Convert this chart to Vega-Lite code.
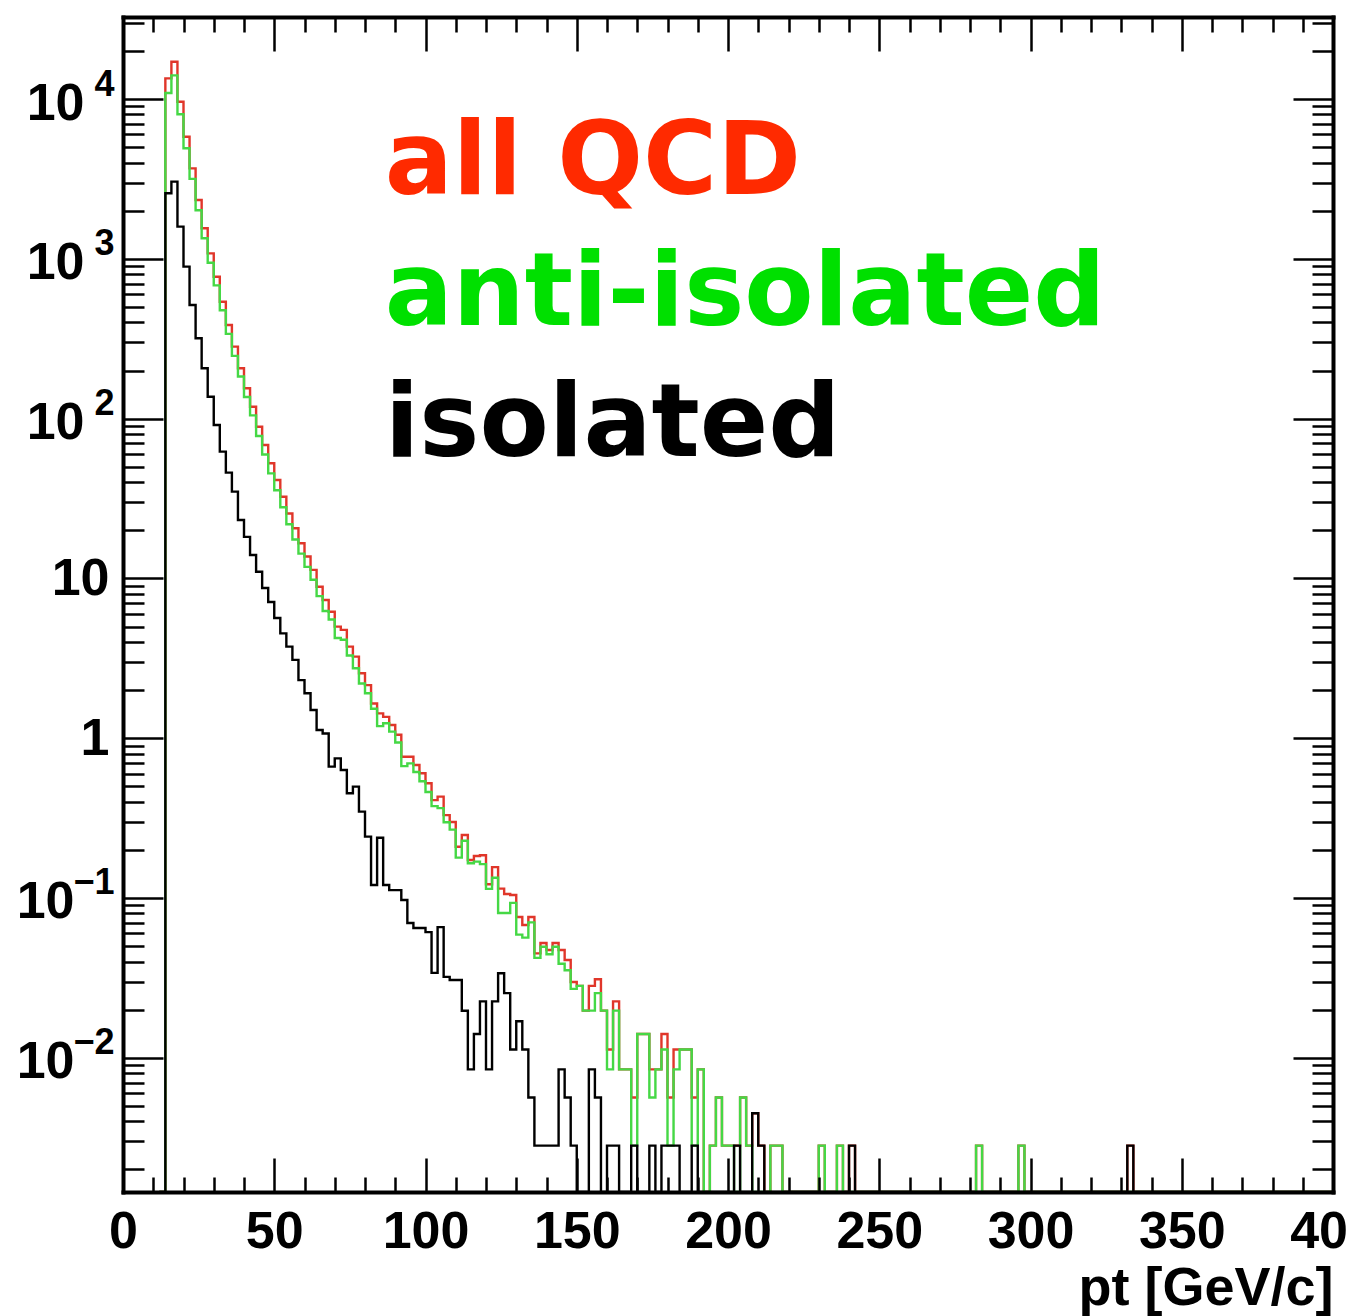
{
  "$schema": "https://vega.github.io/schema/vega-lite/v6.json",
  "width": 1210,
  "height": 1175,
  "autosize": "none",
  "padding": {"left": 123, "top": 17, "right": 16, "bottom": 124},
  "background": "white",
  "config": {"view": {"stroke": null}, "axis": {"grid": false}},
  "data": {"values": [
    {"pt":12,"all":0,"anti":0,"iso":0},
    {"pt":14,"all":13470,"anti":10900,"iso":2570},
    {"pt":16,"all":17100,"anti":14060,"iso":3040},
    {"pt":18,"all":9620,"anti":8030,"iso":1589},
    {"pt":20,"all":5810,"anti":4917,"iso":893},
    {"pt":22,"all":3680,"anti":3166,"iso":514},
    {"pt":24,"all":2333,"anti":2015,"iso":318},
    {"pt":26,"all":1552,"anti":1345,"iso":206.6},
    {"pt":28,"all":1082,"anti":945,"iso":137},
    {"pt":30,"all":773,"anti":682,"iso":91.2},
    {"pt":32,"all":539,"anti":477,"iso":62.1},
    {"pt":34,"all":385,"anti":339,"iso":45.9},
    {"pt":36,"all":282,"anti":247,"iso":34.9},
    {"pt":38,"all":206.5,"anti":183.3,"iso":23.2},
    {"pt":40,"all":154.8,"anti":136.6,"iso":18.2},
    {"pt":42,"all":118.7,"anti":104.7,"iso":14.0},
    {"pt":44,"all":88.9,"anti":77.9,"iso":11.0},
    {"pt":46,"all":68.3,"anti":59.6,"iso":8.71},
    {"pt":48,"all":52.5,"anti":45.4,"iso":7.12},
    {"pt":50,"all":41.3,"anti":35.6,"iso":5.65},
    {"pt":52,"all":32.4,"anti":27.9,"iso":4.53},
    {"pt":54,"all":25.5,"anti":21.8,"iso":3.74},
    {"pt":56,"all":20.6,"anti":17.5,"iso":3.09},
    {"pt":58,"all":16.6,"anti":14.3,"iso":2.31},
    {"pt":60,"all":13.7,"anti":11.8,"iso":1.91},
    {"pt":62,"all":11.3,"anti":9.8,"iso":1.5},
    {"pt":64,"all":8.87,"anti":7.75,"iso":1.125},
    {"pt":66,"all":7.32,"anti":6.25,"iso":1.07},
    {"pt":68,"all":6.19,"anti":5.53,"iso":0.664},
    {"pt":70,"all":4.99,"anti":4.24,"iso":0.748},
    {"pt":72,"all":4.76,"anti":4.13,"iso":0.632},
    {"pt":74,"all":3.74,"anti":3.29,"iso":0.452},
    {"pt":76,"all":3.24,"anti":2.74,"iso":0.498},
    {"pt":78,"all":2.55,"anti":2.2,"iso":0.347},
    {"pt":80,"all":2.15,"anti":1.91,"iso":0.242},
    {"pt":82,"all":1.65,"anti":1.53,"iso":0.1205},
    {"pt":84,"all":1.43,"anti":1.19,"iso":0.238},
    {"pt":86,"all":1.36,"anti":1.24,"iso":0.1205},
    {"pt":88,"all":1.21,"anti":1.1,"iso":0.112},
    {"pt":90,"all":1.05,"anti":0.94,"iso":0.112},
    {"pt":92,"all":0.766,"anti":0.669,"iso":0.0971},
    {"pt":94,"all":0.766,"anti":0.696,"iso":0.0698},
    {"pt":96,"all":0.679,"anti":0.614,"iso":0.0649},
    {"pt":98,"all":0.603,"anti":0.538,"iso":0.0649},
    {"pt":100,"all":0.522,"anti":0.461,"iso":0.0612},
    {"pt":102,"all":0.41,"anti":0.376,"iso":0.034},
    {"pt":104,"all":0.431,"anti":0.365,"iso":0.0657},
    {"pt":106,"all":0.33,"anti":0.298,"iso":0.0321},
    {"pt":108,"all":0.299,"anti":0.268,"iso":0.0307},
    {"pt":110,"all":0.2095,"anti":0.179,"iso":0.0307},
    {"pt":112,"all":0.248,"anti":0.228,"iso":0.0197},
    {"pt":114,"all":0.173,"anti":0.165,"iso":0.00846},
    {"pt":116,"all":0.183,"anti":0.169,"iso":0.0141},
    {"pt":118,"all":0.185,"anti":0.163,"iso":0.02256},
    {"pt":120,"all":0.122,"anti":0.114,"iso":0.00846},
    {"pt":122,"all":0.156,"anti":0.134,"iso":0.02256},
    {"pt":124,"all":0.1144,"anti":0.0806,"iso":0.03384},
    {"pt":126,"all":0.106,"anti":0.0806,"iso":0.02538},
    {"pt":128,"all":0.1045,"anti":0.0932,"iso":0.01128},
    {"pt":130,"all":0.076,"anti":0.059,"iso":0.01692},
    {"pt":132,"all":0.0678,"anti":0.0565,"iso":0.01128},
    {"pt":134,"all":0.076,"anti":0.0704,"iso":0.00564},
    {"pt":136,"all":0.045,"anti":0.0422,"iso":0.00282},
    {"pt":138,"all":0.0523,"anti":0.0495,"iso":0.00282},
    {"pt":140,"all":0.0473,"anti":0.0445,"iso":0.00282},
    {"pt":142,"all":0.0523,"anti":0.0495,"iso":0.00282},
    {"pt":144,"all":0.0473,"anti":0.0388,"iso":0.00846},
    {"pt":146,"all":0.0409,"anti":0.0353,"iso":0.00564},
    {"pt":148,"all":0.0298,"anti":0.027,"iso":0.00282},
    {"pt":150,"all":0.0282,"anti":0.0282,"iso":0},
    {"pt":152,"all":0.01974,"anti":0.01974,"iso":0},
    {"pt":154,"all":0.0282,"anti":0.01974,"iso":0.00846},
    {"pt":156,"all":0.03102,"anti":0.02538,"iso":0.00564},
    {"pt":158,"all":0.01974,"anti":0.01974,"iso":0},
    {"pt":160,"all":0.01128,"anti":0.00846,"iso":0.00282},
    {"pt":162,"all":0.02256,"anti":0.01974,"iso":0.00282},
    {"pt":164,"all":0.00846,"anti":0.00846,"iso":0},
    {"pt":166,"all":0.00846,"anti":0.00846,"iso":0},
    {"pt":168,"all":0.00564,"anti":0.00282,"iso":0.00282},
    {"pt":170,"all":0.0141,"anti":0.0141,"iso":0},
    {"pt":172,"all":0.0141,"anti":0.0141,"iso":0},
    {"pt":174,"all":0.00846,"anti":0.00564,"iso":0.00282},
    {"pt":176,"all":0.00846,"anti":0.00846,"iso":0},
    {"pt":178,"all":0.0141,"anti":0.01128,"iso":0.00282},
    {"pt":180,"all":0.00564,"anti":0.00282,"iso":0.00282},
    {"pt":182,"all":0.01128,"anti":0.00846,"iso":0.00282},
    {"pt":184,"all":0.01128,"anti":0.01128,"iso":0},
    {"pt":186,"all":0.01128,"anti":0.01128,"iso":0},
    {"pt":188,"all":0.00564,"anti":0.00282,"iso":0.00282},
    {"pt":190,"all":0.00846,"anti":0.00846,"iso":0},
    {"pt":192,"all":0,"anti":0,"iso":0},
    {"pt":194,"all":0.00282,"anti":0.00282,"iso":0},
    {"pt":196,"all":0.00564,"anti":0.00564,"iso":0},
    {"pt":198,"all":0.00282,"anti":0.00282,"iso":0},
    {"pt":200,"all":0.00282,"anti":0.00282,"iso":0},
    {"pt":202,"all":0.00282,"anti":0,"iso":0.00282},
    {"pt":204,"all":0.00564,"anti":0.00564,"iso":0},
    {"pt":206,"all":0.00282,"anti":0.00282,"iso":0},
    {"pt":208,"all":0.0045,"anti":0,"iso":0.0045},
    {"pt":210,"all":0.00282,"anti":0,"iso":0.00282},
    {"pt":212,"all":0,"anti":0,"iso":0},
    {"pt":214,"all":0.00282,"anti":0.00282,"iso":0},
    {"pt":216,"all":0.00282,"anti":0.00282,"iso":0},
    {"pt":218,"all":0,"anti":0,"iso":0},
    {"pt":220,"all":0,"anti":0,"iso":0},
    {"pt":222,"all":0,"anti":0,"iso":0},
    {"pt":224,"all":0,"anti":0,"iso":0},
    {"pt":226,"all":0,"anti":0,"iso":0},
    {"pt":228,"all":0,"anti":0,"iso":0},
    {"pt":230,"all":0.00282,"anti":0.00282,"iso":0},
    {"pt":232,"all":0,"anti":0,"iso":0},
    {"pt":234,"all":0,"anti":0,"iso":0},
    {"pt":236,"all":0.00282,"anti":0.00282,"iso":0},
    {"pt":238,"all":0,"anti":0,"iso":0},
    {"pt":240,"all":0.00282,"anti":0,"iso":0.00282},
    {"pt":242,"all":0,"anti":0,"iso":0},
    {"pt":244,"all":0,"anti":0,"iso":0},
    {"pt":246,"all":0,"anti":0,"iso":0},
    {"pt":248,"all":0,"anti":0,"iso":0},
    {"pt":250,"all":0,"anti":0,"iso":0},
    {"pt":252,"all":0,"anti":0,"iso":0},
    {"pt":254,"all":0,"anti":0,"iso":0},
    {"pt":256,"all":0,"anti":0,"iso":0},
    {"pt":258,"all":0,"anti":0,"iso":0},
    {"pt":260,"all":0,"anti":0,"iso":0},
    {"pt":262,"all":0,"anti":0,"iso":0},
    {"pt":264,"all":0,"anti":0,"iso":0},
    {"pt":266,"all":0,"anti":0,"iso":0},
    {"pt":268,"all":0,"anti":0,"iso":0},
    {"pt":270,"all":0,"anti":0,"iso":0},
    {"pt":272,"all":0,"anti":0,"iso":0},
    {"pt":274,"all":0,"anti":0,"iso":0},
    {"pt":276,"all":0,"anti":0,"iso":0},
    {"pt":278,"all":0,"anti":0,"iso":0},
    {"pt":280,"all":0,"anti":0,"iso":0},
    {"pt":282,"all":0.00282,"anti":0.00282,"iso":0},
    {"pt":284,"all":0,"anti":0,"iso":0},
    {"pt":286,"all":0,"anti":0,"iso":0},
    {"pt":288,"all":0,"anti":0,"iso":0},
    {"pt":290,"all":0,"anti":0,"iso":0},
    {"pt":292,"all":0,"anti":0,"iso":0},
    {"pt":294,"all":0,"anti":0,"iso":0},
    {"pt":296,"all":0.00282,"anti":0.00282,"iso":0},
    {"pt":298,"all":0,"anti":0,"iso":0},
    {"pt":300,"all":0,"anti":0,"iso":0},
    {"pt":302,"all":0,"anti":0,"iso":0},
    {"pt":304,"all":0,"anti":0,"iso":0},
    {"pt":306,"all":0,"anti":0,"iso":0},
    {"pt":308,"all":0,"anti":0,"iso":0},
    {"pt":310,"all":0,"anti":0,"iso":0},
    {"pt":312,"all":0,"anti":0,"iso":0},
    {"pt":314,"all":0,"anti":0,"iso":0},
    {"pt":316,"all":0,"anti":0,"iso":0},
    {"pt":318,"all":0,"anti":0,"iso":0},
    {"pt":320,"all":0,"anti":0,"iso":0},
    {"pt":322,"all":0,"anti":0,"iso":0},
    {"pt":324,"all":0,"anti":0,"iso":0},
    {"pt":326,"all":0,"anti":0,"iso":0},
    {"pt":328,"all":0,"anti":0,"iso":0},
    {"pt":330,"all":0,"anti":0,"iso":0},
    {"pt":332,"all":0.00282,"anti":0,"iso":0.00282},
    {"pt":334,"all":0,"anti":0,"iso":0},
    {"pt":336,"all":0,"anti":0,"iso":0},
    {"pt":338,"all":0,"anti":0,"iso":0},
    {"pt":340,"all":0,"anti":0,"iso":0},
    {"pt":342,"all":0,"anti":0,"iso":0},
    {"pt":344,"all":0,"anti":0,"iso":0},
    {"pt":346,"all":0,"anti":0,"iso":0},
    {"pt":348,"all":0,"anti":0,"iso":0},
    {"pt":350,"all":0,"anti":0,"iso":0},
    {"pt":352,"all":0,"anti":0,"iso":0},
    {"pt":354,"all":0,"anti":0,"iso":0},
    {"pt":356,"all":0,"anti":0,"iso":0},
    {"pt":358,"all":0,"anti":0,"iso":0},
    {"pt":360,"all":0,"anti":0,"iso":0},
    {"pt":362,"all":0,"anti":0,"iso":0},
    {"pt":364,"all":0,"anti":0,"iso":0},
    {"pt":366,"all":0,"anti":0,"iso":0},
    {"pt":368,"all":0,"anti":0,"iso":0},
    {"pt":370,"all":0,"anti":0,"iso":0},
    {"pt":372,"all":0,"anti":0,"iso":0},
    {"pt":374,"all":0,"anti":0,"iso":0},
    {"pt":376,"all":0,"anti":0,"iso":0},
    {"pt":378,"all":0,"anti":0,"iso":0},
    {"pt":380,"all":0,"anti":0,"iso":0},
    {"pt":382,"all":0,"anti":0,"iso":0},
    {"pt":384,"all":0,"anti":0,"iso":0},
    {"pt":386,"all":0,"anti":0,"iso":0},
    {"pt":388,"all":0,"anti":0,"iso":0},
    {"pt":390,"all":0,"anti":0,"iso":0},
    {"pt":392,"all":0,"anti":0,"iso":0},
    {"pt":394,"all":0,"anti":0,"iso":0},
    {"pt":396,"all":0,"anti":0,"iso":0},
    {"pt":398,"all":0,"anti":0,"iso":0},
    {"pt":400,"all":0,"anti":0,"iso":0}
  ]},
  "layer": [
    {
      "mark": {"type": "line", "interpolate": "step-after", "color": "#e0362a", "strokeWidth": 2.4},
      "encoding": {
        "x": {"field": "pt", "type": "quantitative",
          "scale": {"domain": [0, 400], "nice": false, "zero": false},
          "axis": {"orient": "bottom", "values": [0, 50, 100, 150, 200, 250, 300, 350, 400], "format": "d",
            "ticks": false, "tickSize": 0, "domain": false, "labelPadding": 14, "labelFlush": false, "labelOverlap": false,
            "labelFont": "Liberation Sans", "labelFontWeight": "bold", "labelFontSize": 52, "labelColor": "#000",
            "title": "pt [GeV/c]", "titleFont": "Liberation Sans", "titleFontWeight": "bold", "titleFontSize": 54, "titleColor": "#000",
            "titleAnchor": null, "titleAlign": "right", "titleBaseline": "alphabetic", "titleX": 1210, "titleY": 112, "zindex": 1}},
        "y": {"field": "all", "type": "quantitative",
          "scale": {"type": "log", "domain": [0.001446, 32600], "nice": false, "clamp": true},
          "axis": {"orient": "left", "values": [1, 10],
            "labelExpr": "datum.value > 5 ? '10' : '1'",
            "ticks": false, "tickSize": 0, "domain": false, "labelPadding": 14, "labelOverlap": false, "labelFlush": false,
            "labelFont": "Liberation Sans", "labelFontWeight": "bold", "labelFontSize": 52, "labelColor": "#000", "labelBaseline": "middle",
            "title": null, "zindex": 1}}
      }
    },
    {
      "mark": {"type": "line", "interpolate": "step-after", "color": "#45d845", "strokeWidth": 2.4},
      "encoding": {
        "x": {"field": "pt", "type": "quantitative",
          "scale": {"domain": [0, 400], "nice": false, "zero": false},
          "axis": {"orient": "bottom", "values": [0, 50, 100, 150, 200, 250, 300, 350, 400], "labels": false,
            "ticks": true, "tickSize": -34, "tickWidth": 2.5, "tickColor": "#000",
            "domain": true, "domainWidth": 4, "domainColor": "#000", "domainCap": "square", "title": null, "zindex": 1}},
        "y": {"field": "anti", "type": "quantitative",
          "scale": {"type": "log", "domain": [0.001446, 32600], "nice": false, "clamp": true},
          "axis": {"orient": "left", "values": [0.01, 0.1, 1, 10, 100, 1000, 10000], "labels": false,
            "ticks": true, "tickSize": -40, "tickWidth": 2.5, "tickColor": "#000",
            "domain": true, "domainWidth": 4, "domainColor": "#000", "domainCap": "square", "title": null, "zindex": 1}}
      }
    },
    {
      "mark": {"type": "line", "interpolate": "step-after", "color": "#000000", "strokeWidth": 2.4},
      "encoding": {
        "x": {"field": "pt", "type": "quantitative",
          "scale": {"domain": [0, 400], "nice": false, "zero": false},
          "axis": {"orient": "bottom", "values": [10, 20, 30, 40, 60, 70, 80, 90, 110, 120, 130, 140, 160, 170, 180, 190, 210, 220, 230, 240, 260, 270, 280, 290, 310, 320, 330, 340, 360, 370, 380, 390], "labels": false,
            "ticks": true, "tickSize": -15, "tickWidth": 2.5, "tickColor": "#000", "domain": false, "title": null, "zindex": 1}},
        "y": {"field": "iso", "type": "quantitative",
          "scale": {"type": "log", "domain": [0.001446, 32600], "nice": false, "clamp": true},
          "axis": {"orient": "left", "values": [0.002, 0.003, 0.004, 0.005, 0.006, 0.007, 0.008, 0.009, 0.02, 0.03, 0.04, 0.05, 0.06, 0.07, 0.08, 0.09, 0.2, 0.3, 0.4, 0.5, 0.6, 0.7, 0.8, 0.9, 2, 3, 4, 5, 6, 7, 8, 9, 20, 30, 40, 50, 60, 70, 80, 90, 200, 300, 400, 500, 600, 700, 800, 900, 2000, 3000, 4000, 5000, 6000, 7000, 8000, 9000, 20000, 30000], "labels": false,
            "ticks": true, "tickSize": -21, "tickWidth": 2.5, "tickColor": "#000", "domain": false, "title": null, "zindex": 1}}
      }
    },
    {
      "mark": {"type": "line", "interpolate": "step-after", "opacity": 0},
      "encoding": {
        "x": {"field": "pt", "type": "quantitative",
          "scale": {"domain": [0, 400], "nice": false, "zero": false},
          "axis": {"orient": "top", "values": [0, 50, 100, 150, 200, 250, 300, 350, 400], "labels": false,
            "ticks": true, "tickSize": -34, "tickWidth": 2.5, "tickColor": "#000",
            "domain": true, "domainWidth": 4, "domainColor": "#000", "domainCap": "square", "title": null, "zindex": 1}},
        "y": {"field": "iso", "type": "quantitative",
          "scale": {"type": "log", "domain": [0.001446, 32600], "nice": false, "clamp": true},
          "axis": {"orient": "right", "values": [0.01, 0.1, 1, 10, 100, 1000, 10000], "labels": false,
            "ticks": true, "tickSize": -40, "tickWidth": 2.5, "tickColor": "#000",
            "domain": true, "domainWidth": 4, "domainColor": "#000", "domainCap": "square", "title": null, "zindex": 1}}
      }
    },
    {
      "mark": {"type": "line", "interpolate": "step-after", "opacity": 0},
      "encoding": {
        "x": {"field": "pt", "type": "quantitative",
          "scale": {"domain": [0, 400], "nice": false, "zero": false},
          "axis": {"orient": "top", "values": [10, 20, 30, 40, 60, 70, 80, 90, 110, 120, 130, 140, 160, 170, 180, 190, 210, 220, 230, 240, 260, 270, 280, 290, 310, 320, 330, 340, 360, 370, 380, 390], "labels": false,
            "ticks": true, "tickSize": -15, "tickWidth": 2.5, "tickColor": "#000", "domain": false, "title": null, "zindex": 1}},
        "y": {"field": "iso", "type": "quantitative",
          "scale": {"type": "log", "domain": [0.001446, 32600], "nice": false, "clamp": true},
          "axis": {"orient": "right", "values": [0.002, 0.003, 0.004, 0.005, 0.006, 0.007, 0.008, 0.009, 0.02, 0.03, 0.04, 0.05, 0.06, 0.07, 0.08, 0.09, 0.2, 0.3, 0.4, 0.5, 0.6, 0.7, 0.8, 0.9, 2, 3, 4, 5, 6, 7, 8, 9, 20, 30, 40, 50, 60, 70, 80, 90, 200, 300, 400, 500, 600, 700, 800, 900, 2000, 3000, 4000, 5000, 6000, 7000, 8000, 9000, 20000, 30000], "labels": false,
            "ticks": true, "tickSize": -21, "tickWidth": 2.5, "tickColor": "#000", "domain": false, "title": null, "zindex": 1}}
      }
    },
    {
      "mark": {"type": "line", "interpolate": "step-after", "opacity": 0},
      "encoding": {
        "x": {"field": "pt", "type": "quantitative", "scale": {"domain": [0, 400], "nice": false, "zero": false}, "axis": null},
        "y": {"field": "iso", "type": "quantitative",
          "scale": {"type": "log", "domain": [0.001446, 32600], "nice": false, "clamp": true},
          "axis": {"orient": "left", "values": [100, 1000, 10000], "labelExpr": "'10'",
            "ticks": false, "tickSize": 0, "domain": false, "labelPadding": 39, "labelOffset": 4, "labelOverlap": false, "labelFlush": false,
            "labelFont": "Liberation Sans", "labelFontWeight": "bold", "labelFontSize": 52, "labelColor": "#000", "labelBaseline": "middle",
            "title": null, "zindex": 1}}
      }
    },
    {
      "mark": {"type": "line", "interpolate": "step-after", "opacity": 0},
      "encoding": {
        "x": {"field": "pt", "type": "quantitative", "scale": {"domain": [0, 400], "nice": false, "zero": false}, "axis": null},
        "y": {"field": "iso", "type": "quantitative",
          "scale": {"type": "log", "domain": [0.001446, 32600], "nice": false, "clamp": true},
          "axis": {"orient": "left", "values": [0.01, 0.1], "labelExpr": "'10'",
            "ticks": false, "tickSize": 0, "domain": false, "labelPadding": 49, "labelOffset": 4, "labelOverlap": false, "labelFlush": false,
            "labelFont": "Liberation Sans", "labelFontWeight": "bold", "labelFontSize": 52, "labelColor": "#000", "labelBaseline": "middle",
            "title": null, "zindex": 1}}
      }
    },
    {
      "mark": {"type": "line", "interpolate": "step-after", "opacity": 0},
      "encoding": {
        "x": {"field": "pt", "type": "quantitative", "scale": {"domain": [0, 400], "nice": false, "zero": false}, "axis": null},
        "y": {"field": "iso", "type": "quantitative",
          "scale": {"type": "log", "domain": [0.001446, 32600], "nice": false, "clamp": true},
          "axis": {"orient": "left", "values": [0.01, 0.1, 100, 1000, 10000],
            "labelExpr": "datum.value > 5000 ? '4' : datum.value > 500 ? '3' : datum.value > 50 ? '2' : datum.value > 0.05 ? '−1' : '−2'",
            "ticks": false, "tickSize": 0, "domain": false, "labelPadding": 9, "labelOffset": -15, "labelOverlap": false, "labelFlush": false,
            "labelFont": "Liberation Sans", "labelFontWeight": "bold", "labelFontSize": 36, "labelColor": "#000", "labelBaseline": "middle",
            "title": null, "zindex": 1}}
      }
    },
    {
      "data": {"values": [
        {"pt": 86.5, "v": 2544, "label": "all QCD"},
        {"pt": 86.5, "v": 385.2, "label": "anti-isolated"},
        {"pt": 86.5, "v": 58.3, "label": "isolated"}
      ]},
      "mark": {"type": "text", "align": "left", "baseline": "alphabetic", "font": "DejaVu Sans", "fontWeight": "bold", "fontSize": 101},
      "encoding": {
        "x": {"field": "pt", "type": "quantitative", "scale": {"domain": [0, 400], "nice": false, "zero": false}, "axis": null},
        "y": {"field": "v", "type": "quantitative", "scale": {"type": "log", "domain": [0.001446, 32600], "nice": false, "clamp": true}, "axis": null},
        "text": {"field": "label"},
        "color": {"field": "label", "type": "nominal", "legend": null,
          "scale": {"domain": ["all QCD", "anti-isolated", "isolated"], "range": ["#ff2a00", "#00e000", "#000000"]}}
      }
    }
  ],
  "resolve": {"axis": {"x": "independent", "y": "independent"}}
}
